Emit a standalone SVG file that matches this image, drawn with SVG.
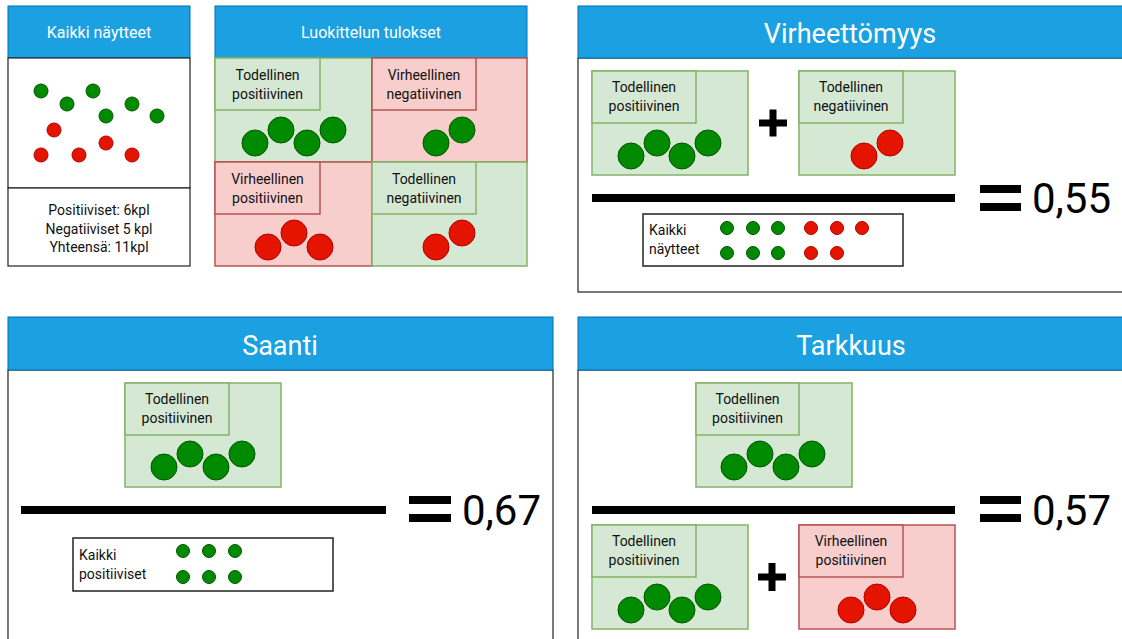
<svg xmlns="http://www.w3.org/2000/svg" width="1122" height="639" viewBox="0 0 1122 639">
<style>
.hdr{fill:#1ba1e2;stroke:#006eaf;stroke-width:1}
.bd{fill:#fff;stroke:#222;stroke-width:1.2}
.g{fill:#d5e8d4;stroke:#82b366;stroke-width:1.5}
.r{fill:#f8cecc;stroke:#b85450;stroke-width:1.5}
.gc{fill:#008a00;stroke:#005700;stroke-width:1}
.rc{fill:#e51400;stroke:#b20000;stroke-width:1}
.box{fill:#fff;stroke:#222;stroke-width:1.5}
.t{font-family:Roboto,"Liberation Sans",sans-serif;font-size:14px;fill:#111;text-anchor:middle}
.tl{font-family:Roboto,"Liberation Sans",sans-serif;font-size:14px;fill:#111;text-anchor:start}
.hs{font-family:Roboto,"Liberation Sans",sans-serif;font-size:16px;fill:#fff;text-anchor:middle}
.hb{font-family:Roboto,"Liberation Sans",sans-serif;font-size:27px;fill:#fff;text-anchor:middle}
.num{font-family:Roboto,"Liberation Sans",sans-serif;font-size:42px;fill:#000;text-anchor:start}
.bar{fill:#000}
</style>

<!-- Panel 1: Kaikki näytteet -->
<g id="kaikki-naytteet">
<rect class="hdr" x="8" y="6" width="182" height="52"/>
<text class="hs" x="99" y="38">Kaikki näytteet</text>
<rect class="bd" x="8" y="58" width="182" height="130"/>
<rect class="bd" x="8" y="188" width="182" height="78"/>
<circle class="gc" cx="41" cy="91" r="7"/>
<circle class="gc" cx="67" cy="104" r="7"/>
<circle class="gc" cx="93" cy="91" r="7"/>
<circle class="gc" cx="132" cy="104" r="7"/>
<circle class="gc" cx="106" cy="116" r="7"/>
<circle class="gc" cx="157" cy="116" r="7"/>
<circle class="rc" cx="54" cy="130" r="7"/>
<circle class="rc" cx="41" cy="155" r="7"/>
<circle class="rc" cx="79" cy="155" r="7"/>
<circle class="rc" cx="106" cy="143" r="7"/>
<circle class="rc" cx="132" cy="155" r="7"/>
<text class="t" x="99" y="215">Positiiviset: 6kpl</text>
<text class="t" x="99" y="234">Negatiiviset 5 kpl</text>
<text class="t" x="99" y="252">Yhteensä: 11kpl</text>
</g>

<!-- Panel 2: Luokittelun tulokset -->
<g id="luokittelun-tulokset">
<rect class="hdr" x="215" y="6" width="312" height="52"/>
<text class="hs" x="371" y="38">Luokittelun tulokset</text>
<g id="p2-tp">
<rect class="g" x="215" y="58" width="157" height="104"/>
<rect class="g" x="215" y="58" width="105" height="52"/>
<text class="t" x="267.5" y="80">Todellinen</text>
<text class="t" x="267.5" y="99">positiivinen</text>
<circle class="gc" cx="255" cy="143" r="13"/>
<circle class="gc" cx="281" cy="130" r="13"/>
<circle class="gc" cx="307" cy="143" r="13"/>
<circle class="gc" cx="333" cy="130" r="13"/>
</g>
<g id="p2-fn">
<rect class="r" x="372" y="58" width="155" height="104"/>
<rect class="r" x="372" y="58" width="104" height="52"/>
<text class="t" x="424" y="80">Virheellinen</text>
<text class="t" x="424" y="99">negatiivinen</text>
<circle class="gc" cx="436" cy="143" r="13"/>
<circle class="gc" cx="462" cy="130" r="13"/>
</g>
<g id="p2-fp">
<rect class="r" x="215" y="162" width="157" height="104"/>
<rect class="r" x="215" y="162" width="105" height="52"/>
<text class="t" x="267.5" y="184">Virheellinen</text>
<text class="t" x="267.5" y="203">positiivinen</text>
<circle class="rc" cx="268" cy="247" r="13"/>
<circle class="rc" cx="294" cy="233" r="13"/>
<circle class="rc" cx="320" cy="247" r="13"/>
</g>
<g id="p2-tn">
<rect class="g" x="372" y="162" width="155" height="104"/>
<rect class="g" x="372" y="162" width="104" height="52"/>
<text class="t" x="424" y="184">Todellinen</text>
<text class="t" x="424" y="203">negatiivinen</text>
<circle class="rc" cx="436" cy="247" r="13"/>
<circle class="rc" cx="462" cy="233" r="13"/>
</g>
</g>

<!-- Panel 3: Virheettömyys -->
<g id="virheettomyys">
<rect class="bd" x="578" y="58" width="560" height="234"/>
<rect class="hdr" x="578" y="6" width="560" height="52"/>
<text class="hb" x="850" y="43">Virheettömyys</text>
<g id="p3-tp">
<rect class="g" x="592" y="71" width="156" height="104"/>
<rect class="g" x="592" y="71" width="104" height="52"/>
<text class="t" x="644" y="92">Todellinen</text>
<text class="t" x="644" y="111">positiivinen</text>
<circle class="gc" cx="631" cy="156" r="13"/>
<circle class="gc" cx="657" cy="143" r="13"/>
<circle class="gc" cx="682" cy="156" r="13"/>
<circle class="gc" cx="708" cy="143" r="13"/>
</g>
<g id="p3-plus">
<rect class="bar" x="759" y="119.5" width="28" height="7"/>
<rect class="bar" x="769.5" y="109.5" width="7" height="27"/>
</g>
<g id="p3-tn">
<rect class="g" x="799" y="71" width="156" height="104"/>
<rect class="g" x="799" y="71" width="104" height="52"/>
<text class="t" x="851" y="92">Todellinen</text>
<text class="t" x="851" y="111">negatiivinen</text>
<circle class="rc" cx="864" cy="156" r="13"/>
<circle class="rc" cx="890" cy="143" r="13"/>
</g>
<rect class="bar" x="592" y="194" width="363" height="8"/>
<g id="p3-all">
<rect class="box" x="643" y="214" width="260" height="52"/>
<text class="tl" x="649" y="235">Kaikki</text>
<text class="tl" x="649" y="254">näytteet</text>
<circle class="gc" cx="727" cy="228" r="6.5"/>
<circle class="gc" cx="753" cy="228" r="6.5"/>
<circle class="gc" cx="778" cy="228" r="6.5"/>
<circle class="rc" cx="811" cy="228" r="6.5"/>
<circle class="rc" cx="837" cy="228" r="6.5"/>
<circle class="rc" cx="862" cy="228" r="6.5"/>
<circle class="gc" cx="727" cy="253" r="6.5"/>
<circle class="gc" cx="753" cy="253" r="6.5"/>
<circle class="gc" cx="778" cy="253" r="6.5"/>
<circle class="rc" cx="811" cy="253" r="6.5"/>
<circle class="rc" cx="837" cy="253" r="6.5"/>
</g>
<rect class="bar" x="980" y="185" width="41" height="8"/>
<rect class="bar" x="980" y="203" width="41" height="8"/>
<text class="num" x="1032" y="213">0,55</text>
</g>

<!-- Panel 4: Saanti -->
<g id="saanti">
<rect class="bd" x="8" y="370" width="545" height="290"/>
<rect class="hdr" x="8" y="317" width="545" height="53"/>
<text class="hb" x="280" y="355">Saanti</text>
<g id="p4-tp">
<rect class="g" x="125" y="383" width="156" height="104"/>
<rect class="g" x="125" y="383" width="104" height="52"/>
<text class="t" x="177" y="404">Todellinen</text>
<text class="t" x="177" y="423">positiivinen</text>
<circle class="gc" cx="164" cy="467" r="13"/>
<circle class="gc" cx="190" cy="454" r="13"/>
<circle class="gc" cx="216" cy="467" r="13"/>
<circle class="gc" cx="242" cy="454" r="13"/>
</g>
<rect class="bar" x="21" y="506" width="365" height="8"/>
<g id="p4-all">
<rect class="box" x="73" y="538" width="260" height="53"/>
<text class="tl" x="79" y="560">Kaikki</text>
<text class="tl" x="79" y="579">positiiviset</text>
<circle class="gc" cx="183" cy="551" r="6.5"/>
<circle class="gc" cx="209" cy="551" r="6.5"/>
<circle class="gc" cx="235" cy="551" r="6.5"/>
<circle class="gc" cx="183" cy="577" r="6.5"/>
<circle class="gc" cx="209" cy="577" r="6.5"/>
<circle class="gc" cx="235" cy="577" r="6.5"/>
</g>
<rect class="bar" x="409" y="496" width="42" height="8"/>
<rect class="bar" x="409" y="514" width="42" height="8"/>
<text class="num" x="462" y="525">0,67</text>
</g>

<!-- Panel 5: Tarkkuus -->
<g id="tarkkuus">
<rect class="bd" x="578" y="370" width="560" height="290"/>
<rect class="hdr" x="578" y="317" width="560" height="53"/>
<text class="hb" x="851" y="355">Tarkkuus</text>
<g id="p5-tp-top">
<rect class="g" x="696" y="383" width="156" height="104"/>
<rect class="g" x="696" y="383" width="103" height="52"/>
<text class="t" x="747.5" y="404">Todellinen</text>
<text class="t" x="747.5" y="423">positiivinen</text>
<circle class="gc" cx="734" cy="467" r="13"/>
<circle class="gc" cx="760" cy="454" r="13"/>
<circle class="gc" cx="786" cy="467" r="13"/>
<circle class="gc" cx="812" cy="454" r="13"/>
</g>
<rect class="bar" x="592" y="506" width="363" height="8"/>
<g id="p5-tp">
<rect class="g" x="592" y="525" width="156" height="104"/>
<rect class="g" x="592" y="525" width="104" height="52"/>
<text class="t" x="644" y="546">Todellinen</text>
<text class="t" x="644" y="565">positiivinen</text>
<circle class="gc" cx="631" cy="610" r="13"/>
<circle class="gc" cx="657" cy="597" r="13"/>
<circle class="gc" cx="682" cy="610" r="13"/>
<circle class="gc" cx="708" cy="597" r="13"/>
</g>
<g id="p5-plus">
<rect class="bar" x="758" y="573.5" width="28" height="7"/>
<rect class="bar" x="768.5" y="563" width="7" height="28"/>
</g>
<g id="p5-fp">
<rect class="r" x="799" y="525" width="156" height="104"/>
<rect class="r" x="799" y="525" width="104" height="52"/>
<text class="t" x="851" y="546">Virheellinen</text>
<text class="t" x="851" y="565">positiivinen</text>
<circle class="rc" cx="851" cy="610" r="13"/>
<circle class="rc" cx="877" cy="597" r="13"/>
<circle class="rc" cx="903" cy="610" r="13"/>
</g>
<rect class="bar" x="980" y="496" width="41" height="8"/>
<rect class="bar" x="980" y="514" width="41" height="8"/>
<text class="num" x="1032" y="525">0,57</text>
</g>
</svg>
